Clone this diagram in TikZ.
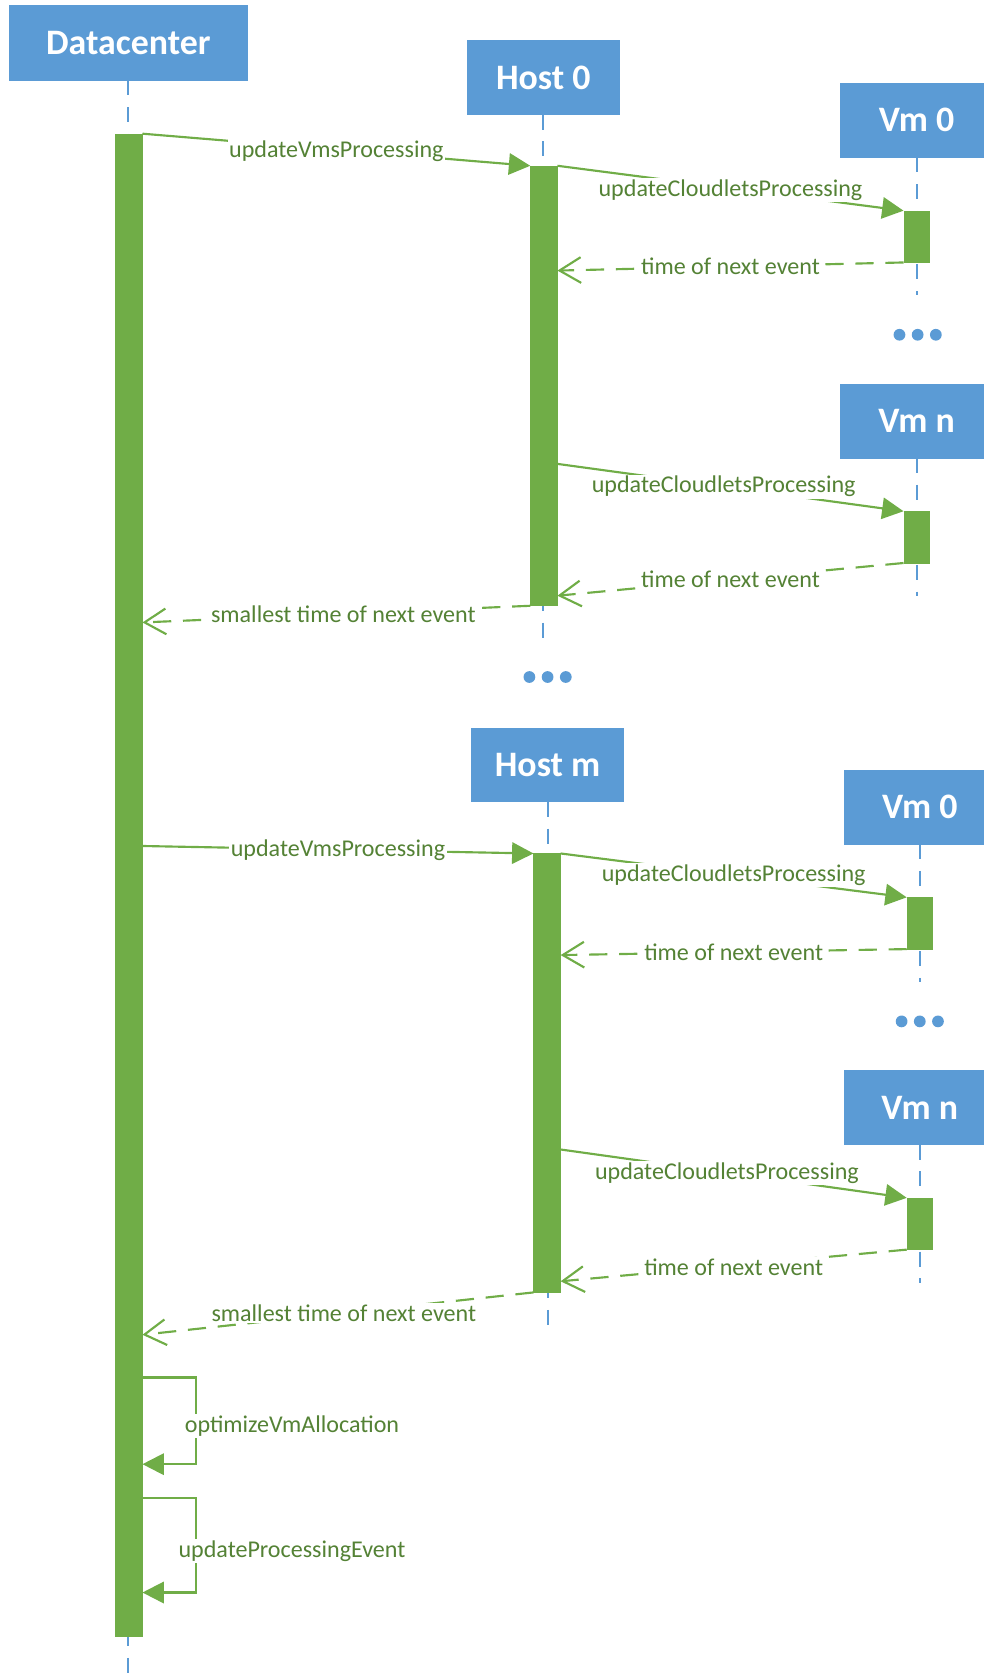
\documentclass[tikz,border=0pt]{standalone}
\usepackage{fontspec}
\setmainfont{Carlito}
\usetikzlibrary{arrows.meta}
\definecolor{hdrblue}{HTML}{5B9BD5}
\definecolor{actgreen}{HTML}{70AD47}
\definecolor{txtgreen}{HTML}{548235}

\begin{document}
\begin{tikzpicture}[x=1pt,y=-1pt,
  header/.style={fill=hdrblue, draw=hdrblue, minimum width=142pt, minimum height=69pt,
    inner sep=0pt, text=white, font=\bfseries\fontsize{33.5}{40}\selectfont},
  actbar/.style={fill=actgreen, draw=actgreen, minimum width=24pt, inner sep=0pt, anchor=north},
  lifeline/.style={draw=hdrblue, line width=2pt, dash pattern=on 14pt off 11pt},
  msg/.style={draw=actgreen, line width=2pt, -{Triangle[length=20pt,width=20pt]}},
  reply/.style={draw=actgreen, line width=2pt, dash pattern=on 17pt off 11pt,
    -{Straight Barb[length=20pt,width=24pt]}},
  lbl/.style={fill=white, inner sep=1.5pt, text=txtgreen, font=\fontsize{22.5}{27}\selectfont},
  dot/.style={circle, fill=hdrblue, minimum size=11pt, inner sep=0pt},
]
\useasboundingbox (0,0) rectangle (920,1568);
\clip (0,0) rectangle (920,1568);

% participants
\node[header, minimum width=222pt, minimum height=70pt] (dc) at (120,40) {Datacenter};
\node[header] (h0)  at (508,72.5)   {Host 0};
\node[header] (v00) at (857,112.5)  {Vm 0};
\node[header] (v0n) at (857,393.5)  {Vm n};
\node[header] (hm)  at (512,715)    {Host m};
\node[header] (vm0) at (860,754.5)  {Vm 0};
\node[header] (vmn) at (860,1035.5) {Vm n};

% lifeline ends
\coordinate (dcend)  at (120,1568);
\coordinate (h0end)  at (508,600);
\coordinate (v00end) at (857,276);
\coordinate (v0nend) at (857,557);
\coordinate (hmend)  at (512,1242);
\coordinate (vm0end) at (860,918);
\coordinate (vmnend) at (860,1200);

\draw[lifeline] (dc.south)  -- (dcend);
\draw[lifeline] (h0.south)  -- (h0end);
\draw[lifeline] (v00.south) -- (v00end);
\draw[lifeline] (v0n.south) -- (v0nend);
\draw[lifeline] (hm.south)  -- (hmend);
\draw[lifeline] (vm0.south) -- (vm0end);
\draw[lifeline] (vmn.south) -- (vmnend);

% activation bars
\node[actbar, minimum width=25pt, minimum height=1405pt] (dcbar) at (120.5,125) {};
\node[actbar, minimum width=25pt, minimum height=411pt]  (h0bar) at (508.5,155) {};
\node[actbar, minimum height=48pt] (v00bar) at (857,197) {};
\node[actbar, minimum height=48pt] (v0nbar) at (857,478) {};
\node[actbar, minimum width=25pt, minimum height=410pt]  (hmbar) at (511.5,798) {};
\node[actbar, minimum height=48pt] (vm0bar) at (860,839) {};
\node[actbar, minimum height=48pt] (vmnbar) at (860,1120) {};

% "more" markers
\foreach \dx [count=\i] in {-17,0,17} {
  \node[dot] (vdotsA\i) at (858+\dx,313) {};
  \node[dot] (hdots\i)  at (512+\dx,633) {};
  \node[dot] (vdotsB\i) at (860+\dx,955) {};
}

% message end points
\coordinate (r1) at (h0bar.east |- 0,253);
\coordinate (s2) at (h0bar.center |- 0,432);
\coordinate (r2) at (h0bar.east |- 0,557);
\coordinate (r3) at (dcbar.east |- 0,582);
\coordinate (s4) at (dcbar.east |- 0,791);
\coordinate (r4) at (hmbar.east |- 0,893);
\coordinate (s5) at (hmbar.center |- 0,1073);
\coordinate (r5) at (hmbar.east |- 0,1198);
\coordinate (r6) at (dcbar.east |- 0,1248);

% first host
\draw[msg] (dcbar.north east) -- node[lbl, midway, yshift=-1.5pt] {updateVmsProcessing} (h0bar.north west);
\draw[msg] (h0bar.north east) -- node[lbl, midway, yshift=-1.5pt] {updateCloudletsProcessing} (v00bar.north west);
\draw[reply] (v00bar.south west) -- node[lbl, midway] {time of next event} (r1);
\draw[msg] (s2) -- node[lbl, midway] {updateCloudletsProcessing} (v0nbar.north west);
\draw[reply] (v0nbar.south west) -- node[lbl, midway] {time of next event} (r2);
\draw[reply] (h0bar.south west) -- node[lbl, pos=0.482] {smallest time of next event} (r3);

% last host
\draw[msg] (s4) -- node[lbl, midway] {updateVmsProcessing} (hmbar.north west);
\draw[msg] (hmbar.north east) -- node[lbl, midway] {updateCloudletsProcessing} (vm0bar.north west);
\draw[reply] (vm0bar.south west) -- node[lbl, midway] {time of next event} (r4);
\draw[msg] (s5) -- node[lbl, midway] {updateCloudletsProcessing} (vmnbar.north west);
\draw[reply] (vmnbar.south west) -- node[lbl, midway, yshift=-1.5pt] {time of next event} (r5);
\draw[reply] (hmbar.south west) -- node[lbl, pos=0.485] {smallest time of next event} (r6);

% self calls on the datacenter
\coordinate (o1s) at (dcbar.east |- 0,1288);
\coordinate (o1e) at (dcbar.east |- 0,1369);
\coordinate (o2s) at (dcbar.east |- 0,1401);
\coordinate (o2e) at (dcbar.east |- 0,1489);
\draw[msg] (o1s) -- ++(50,0) |- (o1e);
\node[lbl] (o1l) at (273,1333) {optimizeVmAllocation};
\draw[msg] (o2s) -- ++(50,0) |- (o2e);
\node[lbl] (o2l) at (273,1450) {updateProcessingEvent};
\end{tikzpicture}
\end{document}
